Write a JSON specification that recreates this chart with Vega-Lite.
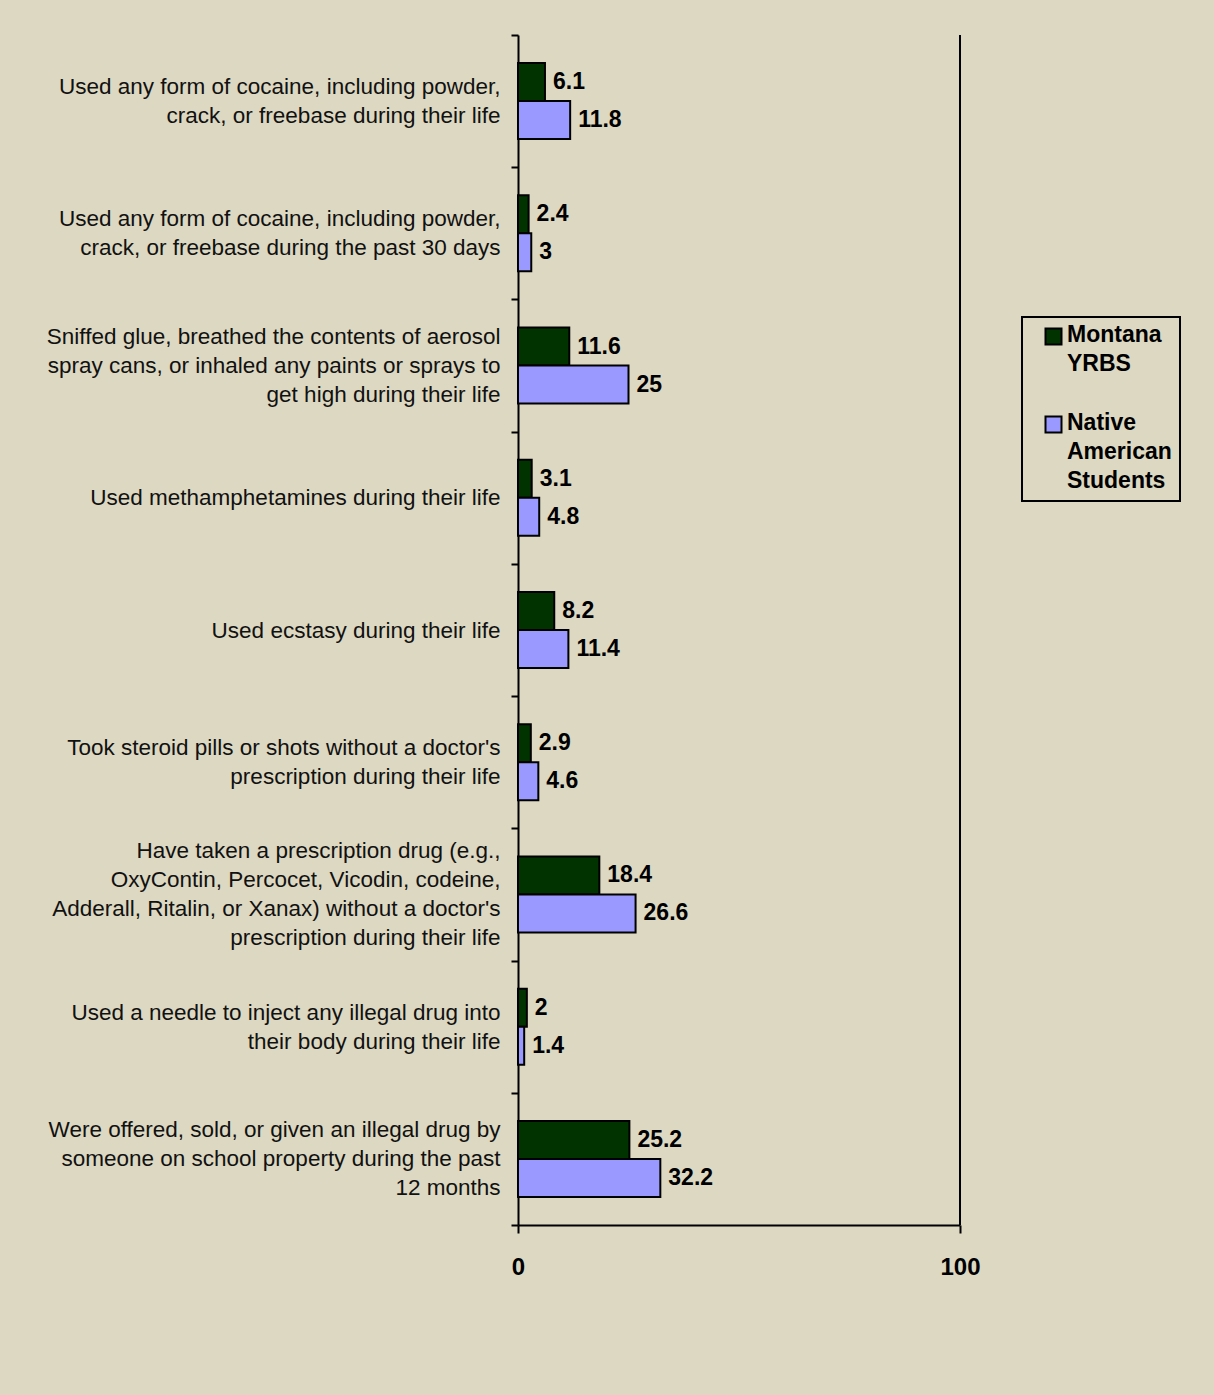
{
  "$schema": "https://vega.github.io/schema/vega-lite/v6.json",
  "width": 442,
  "height": 1190,
  "autosize": {"type": "none"},
  "padding": {"left": 518, "top": 35, "right": 254, "bottom": 170},
  "background": "#ddd8c2",
  "config": {"view": {"stroke": null}, "font": "Liberation Sans"},
  "data": {
    "values": [
      {"q": "Used any form of cocaine, including powder,|crack, or freebase during their life", "group": "Montana YRBS", "value": 6.1},
      {"q": "Used any form of cocaine, including powder,|crack, or freebase during their life", "group": "Native American Students", "value": 11.8},
      {"q": "Used any form of cocaine, including powder,|crack, or freebase during the past 30 days", "group": "Montana YRBS", "value": 2.4},
      {"q": "Used any form of cocaine, including powder,|crack, or freebase during the past 30 days", "group": "Native American Students", "value": 3},
      {"q": "Sniffed glue, breathed the contents of aerosol|spray cans, or inhaled any paints or sprays to|get high during their life", "group": "Montana YRBS", "value": 11.6},
      {"q": "Sniffed glue, breathed the contents of aerosol|spray cans, or inhaled any paints or sprays to|get high during their life", "group": "Native American Students", "value": 25},
      {"q": "Used methamphetamines during their life", "group": "Montana YRBS", "value": 3.1},
      {"q": "Used methamphetamines during their life", "group": "Native American Students", "value": 4.8},
      {"q": "Used ecstasy during their life", "group": "Montana YRBS", "value": 8.2},
      {"q": "Used ecstasy during their life", "group": "Native American Students", "value": 11.4},
      {"q": "Took steroid pills or shots without a doctor's|prescription during their life", "group": "Montana YRBS", "value": 2.9},
      {"q": "Took steroid pills or shots without a doctor's|prescription during their life", "group": "Native American Students", "value": 4.6},
      {"q": "Have taken a prescription drug (e.g.,|OxyContin, Percocet, Vicodin, codeine,|Adderall, Ritalin, or Xanax) without a doctor's|prescription during their life", "group": "Montana YRBS", "value": 18.4},
      {"q": "Have taken a prescription drug (e.g.,|OxyContin, Percocet, Vicodin, codeine,|Adderall, Ritalin, or Xanax) without a doctor's|prescription during their life", "group": "Native American Students", "value": 26.6},
      {"q": "Used a needle to inject any illegal drug into|their body during their life", "group": "Montana YRBS", "value": 2},
      {"q": "Used a needle to inject any illegal drug into|their body during their life", "group": "Native American Students", "value": 1.4},
      {"q": "Were offered, sold, or given an illegal drug by|someone on school property during the past|12 months", "group": "Montana YRBS", "value": 25.2},
      {"q": "Were offered, sold, or given an illegal drug by|someone on school property during the past|12 months", "group": "Native American Students", "value": 32.2}
    ]
  },
  "layer": [
    {
      "mark": {"type": "bar", "stroke": "black", "strokeWidth": 2},
      "encoding": {
        "y": {
          "field": "q", "type": "nominal", "sort": null,
          "scale": {"paddingInner": 0, "paddingOuter": 0},
          "axis": {
            "title": null,
            "labelExpr": "split(datum.label, '|')",
            "labelFontSize": 22.5,
            "labelLineHeight": 29,
            "labelColor": "#111111",
            "labelPadding": 11,
            "labelLimit": 0,
            "labelOffset": {
              "condition": [
                {"test": "length(split(datum.value, '|')) == 2", "value": -14.5},
                {"test": "length(split(datum.value, '|')) == 3", "value": -29},
                {"test": "length(split(datum.value, '|')) == 4", "value": -43.5}
              ],
              "value": 0
            },
            "tickBand": "extent",
            "tickSize": 7,
            "tickColor": "black",
            "tickWidth": 2,
            "domainColor": "black",
            "domainWidth": 2,
            "grid": false
          }
        },
        "yOffset": {
          "field": "group", "type": "nominal", "sort": ["Montana YRBS", "Native American Students"],
          "scale": {"paddingInner": 0, "paddingOuter": 0.74}
        },
        "x": {
          "field": "value", "type": "quantitative",
          "scale": {"domain": [0, 100], "nice": false},
          "axis": {
            "values": [0, 100],
            "title": null,
            "grid": false,
            "labelFontSize": 24,
            "labelFontWeight": "bold",
            "labelColor": "black",
            "labelPadding": 22,
            "labelFlush": false,
            "tickSize": 8,
            "tickColor": "black",
            "tickWidth": 2,
            "domainColor": "black",
            "domainWidth": 2
          }
        },
        "color": {
          "field": "group", "type": "nominal",
          "scale": {"domain": ["Montana YRBS", "Native American Students"], "range": ["#003300", "#9999ff"]},
          "legend": {
            "title": null,
            "orient": "none",
            "legendX": 504,
            "legendY": 282,
            "labelExpr": "split(datum.label, ' ')",
            "symbolType": "square",
            "symbolSize": 256,
            "symbolStrokeColor": "black",
            "symbolStrokeWidth": 2,
            "symbolOffset": 12,
            "labelFontSize": 23,
            "labelFontWeight": "bold",
            "labelColor": "black",
            "labelBaseline": "top",
            "labelOffset": 2,
            "rowPadding": 35,
            "strokeColor": "black",
            "padding": 8,
            "encode": {
              "legend": {"update": {"strokeWidth": {"value": 2}}},
              "labels": {"update": {"dy": {"value": -13}, "lineHeight": {"value": 29}}}
            }
          }
        }
      }
    },
    {
      "mark": {"type": "text", "align": "left", "dx": 8, "fontWeight": "bold", "fontSize": 23, "color": "black"},
      "encoding": {
        "y": {"field": "q", "type": "nominal", "sort": null},
        "yOffset": {"field": "group", "type": "nominal", "sort": ["Montana YRBS", "Native American Students"]},
        "x": {"field": "value", "type": "quantitative"},
        "text": {"field": "value", "type": "quantitative"}
      }
    },
    {
      "data": {"values": [{"v": 100}]},
      "mark": {"type": "rule", "color": "black", "strokeWidth": 2},
      "encoding": {"x": {"field": "v", "type": "quantitative"}}
    }
  ]
}
